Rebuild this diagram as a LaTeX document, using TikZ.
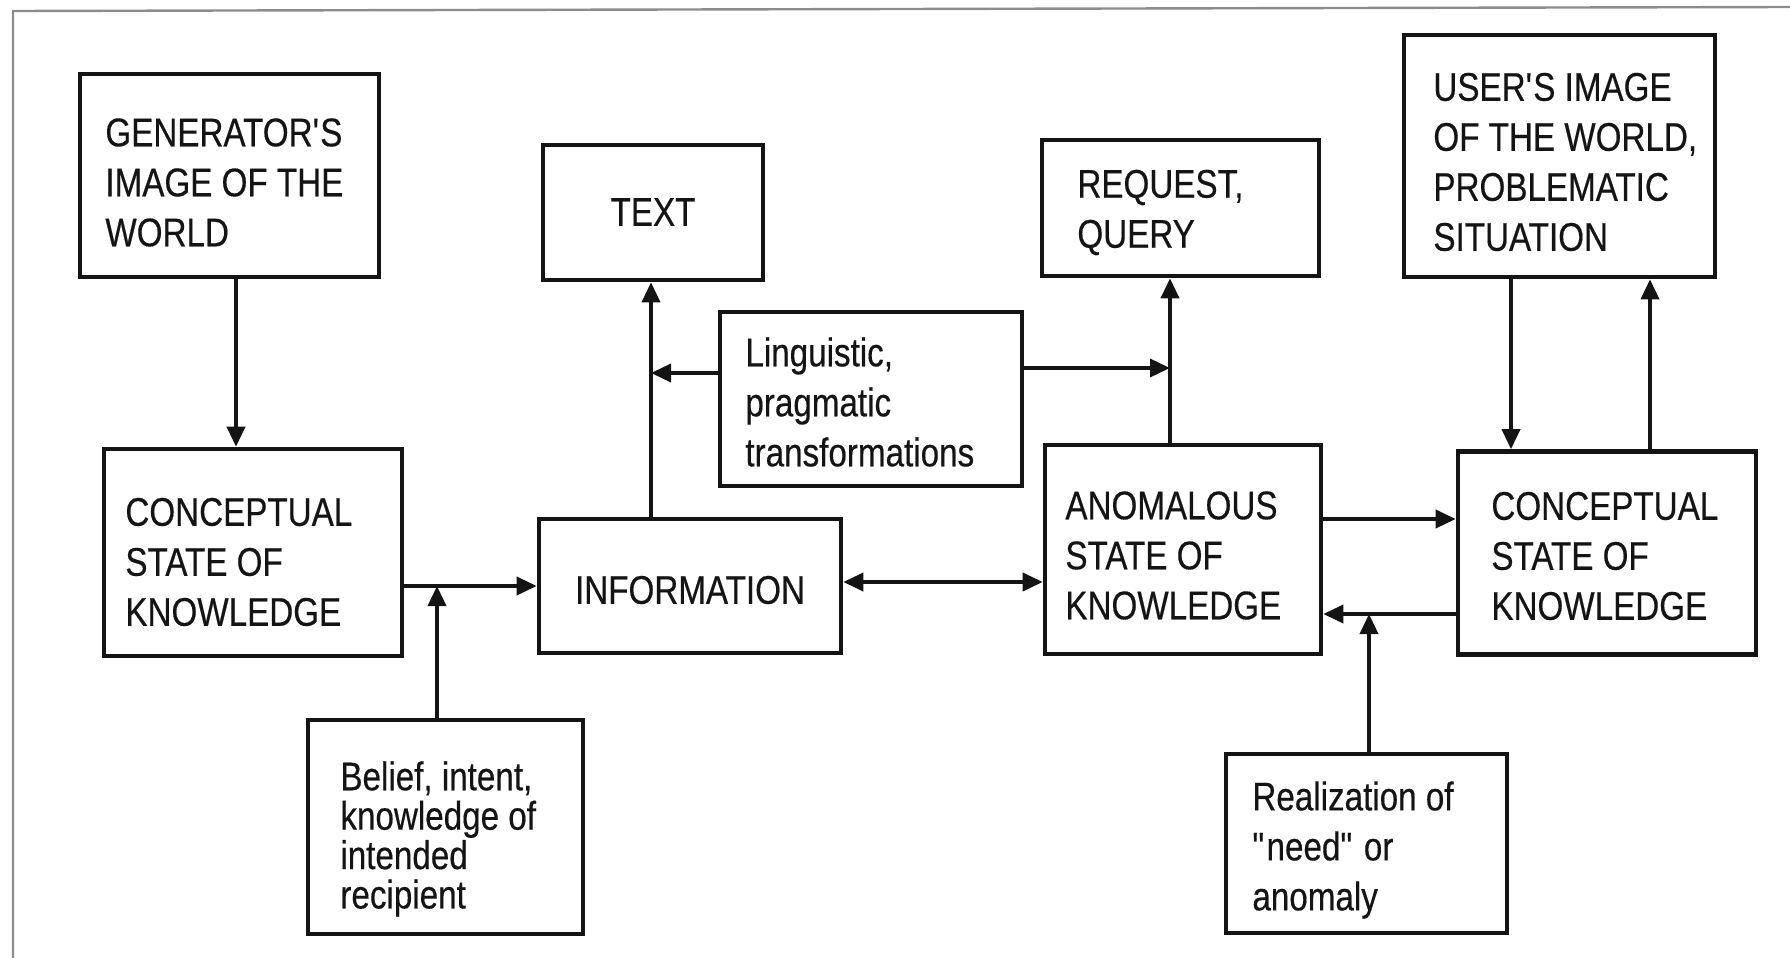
\documentclass[tikz,border=0pt]{standalone}
\usepackage{fontspec}
\setmainfont{Liberation Sans}[FakeStretch=0.83,FakeBold=0.4]
\usetikzlibrary{arrows.meta}
\begin{document}
\begin{tikzpicture}[x=0.5pt,y=-0.5pt,
  box/.style={draw=black!92, line width=2.3pt, inner sep=0pt},
  lbl/.style={inner sep=0pt, align=left, anchor=west, text=black!92, font=\fontsize{20pt}{25pt}\selectfont},
  tight/.style={font=\fontsize{20pt}{19.7pt}\selectfont},
  arr/.style={draw=black!92, line width=1.8pt, -{Triangle[length=10pt,width=9pt]}},
  arrtwo/.style={draw=black!92, line width=1.8pt, {Triangle[length=10pt,width=9pt]}-{Triangle[length=10pt,width=9pt]}},
  frame/.style={draw=black!45, line width=1.2pt}]
\useasboundingbox (0,0) rectangle (1790,958);
\draw[frame] (13,958) -- (13,11) -- (1790,7);

% boxes
\node[box, minimum width=149.5pt, minimum height=101.5pt] (gen) at (229.5,175.5) {};
\node[box, minimum width=110pt, minimum height=67.5pt] (text) at (653,212.5) {};
\node[box, minimum width=138.5pt, minimum height=68pt] (req) at (1180.5,208) {};
\node[box, minimum width=155.5pt, minimum height=121pt] (user) at (1559.5,156) {};
\node[box, minimum width=151pt, minimum height=87pt] (ling) at (871,399) {};
\node[box, minimum width=149pt, minimum height=103.5pt] (csk1) at (253,552.5) {};
\node[box, minimum width=151pt, minimum height=67pt] (info) at (690,586) {};
\node[box, minimum width=138pt, minimum height=104.5pt] (anom) at (1183,549.5) {};
\node[box, minimum width=149pt, minimum height=101.5pt] (csk2) at (1607,553) {};
\node[box, minimum width=137.5pt, minimum height=107pt] (belief) at (445.5,827) {};
\node[box, minimum width=140.5pt, minimum height=89.5pt] (realz) at (1366.5,843.5) {};

% texts
\node[lbl] (gen-t) at (105,182.5) {GENERATOR\textquotesingle S\\IMAGE OF THE\\WORLD};
\node[lbl, anchor=center] (text-t) at (653,212) {TEXT};
\node[lbl] (req-t) at (1077,212.5) {REQUEST,\\QUERY};
\node[lbl] (user-t) at (1433,162) {USER\textquotesingle S IMAGE\\OF THE WORLD,\\PROBLEMATIC\\SITUATION};
\node[lbl] (ling-t) at (745,402) {Linguistic,\\pragmatic\\transformations};
\node[lbl] (csk1-t) at (125,562) {CONCEPTUAL\\STATE OF\\KNOWLEDGE};
\node[lbl, anchor=center] (info-t) at (690,590) {INFORMATION};
\node[lbl] (anom-t) at (1065,555.5) {ANOMALOUS\\STATE OF\\KNOWLEDGE};
\node[lbl] (csk2-t) at (1491,556) {CONCEPTUAL\\STATE OF\\KNOWLEDGE};
\node[lbl, tight] (belief-t) at (340,839) {Belief, intent,\\knowledge of\\intended\\recipient};
\node[lbl] (realz-t) at (1252,850) {Realization of\\\textquotedbl need\textquotedbl{} or\\anomaly};

% connector positions
\coordinate (xa) at (236,0);
\coordinate (yb) at (0,586);
\coordinate (jb) at (437,586);
\coordinate (xd) at (651,0);
\coordinate (je) at (651,373);
\coordinate (xg) at (1170,0);
\coordinate (jf) at (1170,368);
\coordinate (yh) at (0,582);
\coordinate (yi) at (0,519);
\coordinate (yj) at (0,614);
\coordinate (jk) at (1369,614);
\coordinate (xl) at (1511,0);
\coordinate (xm) at (1650,0);

% connectors
\draw[arr] (gen.south -| xa) -- (csk1.north -| xa);
\draw[arr] (csk1.east |- yb) -- (info.west |- yb);
\draw[arr] (belief.north -| jb) -- (jb);
\draw[arr] (info.north -| xd) -- (text.south -| xd);
\draw[arr] (ling.west |- je) -- (je);
\draw[arr] (anom.north -| xg) -- (req.south -| xg);
\draw[arr] (ling.east |- jf) -- (jf);
\draw[arrtwo] (info.east |- yh) -- (anom.west |- yh);
\draw[arr] (anom.east |- yi) -- (csk2.west |- yi);
\draw[arr] (csk2.west |- yj) -- (anom.east |- yj);
\draw[arr] (realz.north -| jk) -- (jk);
\draw[arr] (user.south -| xl) -- (csk2.north -| xl);
\draw[arr] (csk2.north -| xm) -- (user.south -| xm);
\end{tikzpicture}
\end{document}
